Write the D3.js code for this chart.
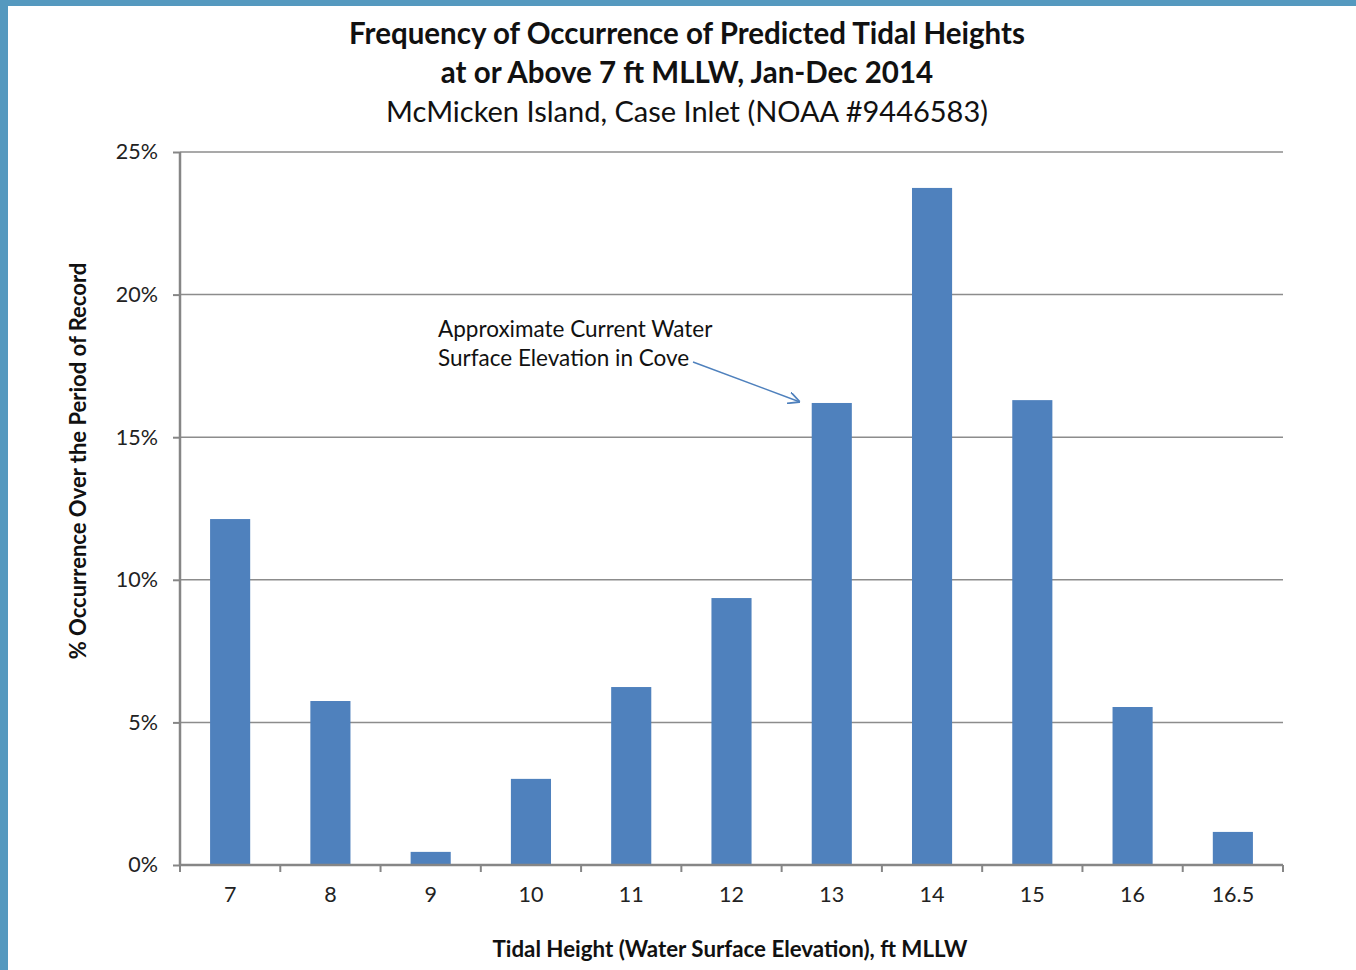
<!DOCTYPE html>
<html><head><meta charset="utf-8">
<script src="https://cdn.jsdelivr.net/npm/d3@7"></script>
<style>
html,body{margin:0;padding:0;background:#fff;}
svg{display:block;font-family:Lato,"Open Sans",sans-serif;}
</style></head>
<body>
<svg id="c" width="1356" height="970"></svg>
<script>
const categories = ["7","8","9","10","11","12","13","14","15","16","16.5"];
const values = [12.13,5.75,0.46,3.02,6.24,9.36,16.2,23.74,16.3,5.54,1.16];
const yTicks = [0,5,10,15,20,25];
const titleLines = ["Frequency of Occurrence of Predicted Tidal Heights","at or Above 7 ft MLLW, Jan-Dec 2014"];
const subtitle = "McMicken Island, Case Inlet (NOAA #9446583)";
const annotationLines = ["Approximate Current Water","Surface Elevation in Cove"];

const svg = d3.select("#c");
// border
svg.append("rect").attr("x",0).attr("y",0).attr("width",1356).attr("height",6).attr("fill","#5599bf");
svg.append("rect").attr("x",0).attr("y",0).attr("width",8).attr("height",970).attr("fill","#5599bf");

const L=180,R=1283,T=152,B=865;
const x = d3.scaleBand().domain(categories).range([L,R]).paddingInner(0.6).paddingOuter(0.3);
const xb = d3.scaleBand().domain(categories).range([L,R]);
const y = d3.scaleLinear().domain([0,25]).range([B,T]);

// gridlines
svg.append("g").selectAll("line").data(yTicks.filter(d=>d>0)).join("line")
  .attr("x1",L).attr("x2",R).attr("y1",d=>y(d)).attr("y2",d=>y(d))
  .attr("stroke","#8c8c8c").attr("stroke-width",1.5);

// bars
svg.append("g").selectAll("rect").data(values).join("rect")
  .attr("x",(d,i)=>x(categories[i])).attr("width",x.bandwidth())
  .attr("y",d=>y(d)).attr("height",d=>B-y(d)).attr("fill","#4f81bd");

// y axis
const yAxis = d3.axisLeft(y).tickValues(yTicks).tickFormat(d=>d+"%").tickSize(7).tickPadding(15);
const gy = svg.append("g").attr("transform",`translate(${L},0)`).call(yAxis);
gy.select(".domain").attr("stroke","#868686").attr("stroke-width",2.5).attr("d",`M0,${T}V${B}`);
gy.selectAll(".tick line").attr("stroke","#868686").attr("stroke-width",2);
gy.selectAll(".tick text").attr("font-size",21.5).attr("fill","#222").attr("font-family","Lato, sans-serif");

// x axis
const xAxis = d3.axisBottom(xb).tickSize(0).tickPadding(22);
const gx = svg.append("g").attr("transform",`translate(0,${B})`).call(xAxis);
gx.select(".domain").attr("stroke","#868686").attr("stroke-width",2.5).attr("d",`M${L},0H${R}`);
gx.selectAll(".tick text").attr("font-size",21.5).attr("fill","#222").attr("font-family","Lato, sans-serif");
// boundary ticks
const bounds = categories.map(c=>xb(c)).concat([R]);
gx.append("g").selectAll("line").data(bounds).join("line")
  .attr("x1",d=>d).attr("x2",d=>d).attr("y1",0).attr("y2",7)
  .attr("stroke","#868686").attr("stroke-width",2);

// titles
const tg = svg.append("g").attr("text-anchor","middle").attr("fill","#111");
tg.selectAll("text.t").data(titleLines).join("text").attr("class","t")
  .attr("x",687).attr("y",(d,i)=>44+i*39).attr("font-size",29.5).attr("font-weight","bold").text(d=>d);
tg.append("text").attr("x",687).attr("y",122).attr("font-size",29).text(subtitle);

// axis titles
svg.append("text").attr("transform","translate(86,461) rotate(-90)").attr("text-anchor","middle")
  .attr("font-size",22).attr("font-weight","bold").attr("fill","#111").text("% Occurrence Over the Period of Record");
svg.append("text").attr("x",730).attr("y",957).attr("text-anchor","middle")
  .attr("font-size",22.3).attr("font-weight","bold").attr("fill","#111").text("Tidal Height (Water Surface Elevation), ft MLLW");

// annotation
svg.append("g").selectAll("text").data(annotationLines).join("text")
  .attr("x",438).attr("y",(d,i)=>337+i*29).attr("font-size",22.5).attr("fill","#111").text(d=>d);
svg.append("defs").append("marker").attr("id","ah").attr("viewBox","0 0 10 10").attr("refX",10).attr("refY",5)
  .attr("markerWidth",12).attr("markerHeight",12).attr("markerUnits","userSpaceOnUse").attr("orient","auto")
  .append("path").attr("d","M0,0L10,5L0,10").attr("fill","none").attr("stroke","#4f81bd").attr("stroke-width",1.5);
svg.append("line").attr("x1",693).attr("y1",362).attr("x2",800).attr("y2",402)
  .attr("stroke","#4f81bd").attr("stroke-width",1.5).attr("marker-end","url(#ah)");
</script>
</body></html>
